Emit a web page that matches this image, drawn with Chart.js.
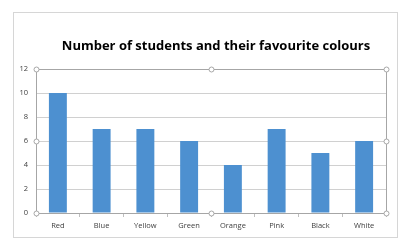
<!DOCTYPE html>
<html>
<head>
<meta charset="utf-8">
<script src="https://cdn.jsdelivr.net/npm/chart.js@4.4.0/dist/chart.umd.min.js"></script>
<style>
  body { margin: 0; background: #fff; }
  #wrap { position: relative; width: 402px; height: 241px; }
  #frame { position: absolute; left: 13px; top: 12px; width: 383px; height: 224px; border: 1px solid #d6d6d6; }
  canvas { position: absolute; left: 0; top: 0; }
</style>
</head>
<body>
<div id="wrap">
  <div id="frame"></div>
  <canvas id="myChart" width="402" height="241"></canvas>
</div>
<script>
const labels = ["Red", "Blue", "Yellow", "Green", "Orange", "Pink", "Black", "White"]
const students = [10, 7, 7, 6, 4, 7, 5, 6]
const yTicks = [0, 2, 4, 6, 8, 10, 12]
const titulo = "Number of students and their favourite colours"

const ctx = document.getElementById("myChart")

// plot area box + little handles like the excel selection, and the title
const plotBox = {
  id: "plotBox",
  afterDraw(chart) {
    const a = chart.chartArea
    const c = chart.ctx
    c.save()
    c.fillStyle = "#000"
    c.font = "bold 13px 'Open Sans'"
    c.textAlign = "center"
    c.textBaseline = "middle"
    c.fillText(titulo, 216, 46)

    c.strokeStyle = "#a6a6a6"
    c.lineWidth = 1
    c.strokeRect(a.left + 0.5, a.top + 0.5, a.right - a.left, a.bottom - a.top)
    const mx = (a.left + a.right) / 2
    const my = (a.top + a.bottom) / 2
    const pts = [[a.left, a.top], [mx, a.top], [a.right, a.top], [a.left, my], [a.right, my], [a.left, a.bottom], [mx, a.bottom], [a.right, a.bottom]]
    pts.forEach((p) => {
      c.beginPath()
      c.arc(p[0] + 0.5, p[1] + 0.5, 2.5, 0, Math.PI * 2)
      c.fillStyle = "#fff"
      c.fill()
      c.stroke()
    })
    c.restore()
  },
}

new Chart(ctx, {
  type: "bar",
  data: {
    labels: labels,
    datasets: [
      {
        label: "Students",
        data: students,
        backgroundColor: "#4d90d0",
        categoryPercentage: 1,
        barPercentage: 0.41,
      },
    ],
  },
  options: {
    responsive: false,
    animation: false,
    layout: { padding: { left: 14, right: 16, top: 69, bottom: 4 } },
    plugins: {
      legend: { display: false },
      tooltip: { enabled: false },
      title: { display: false },
    },
    scales: {
      x: {
        grid: { drawOnChartArea: false, drawTicks: true, tickLength: 4, color: "#bfbfbf" },
        border: { display: false },
        ticks: { color: "#404040", font: { family: "Open Sans", size: 7.5 }, padding: 4 },
        afterFit: (s) => { s.height = 24 },
      },
      y: {
        min: 0,
        max: 12,
        afterBuildTicks: (s) => { s.ticks = yTicks.map((v) => ({ value: v })) },
        grid: { color: "#d0d0d0", drawTicks: false },
        border: { display: false },
        ticks: { color: "#404040", font: { family: "Open Sans", size: 7.5 }, padding: 8 },
        afterFit: (s) => { s.width = 22 },
      },
    },
  },
  plugins: [plotBox],
})
</script>
</body>
</html>
